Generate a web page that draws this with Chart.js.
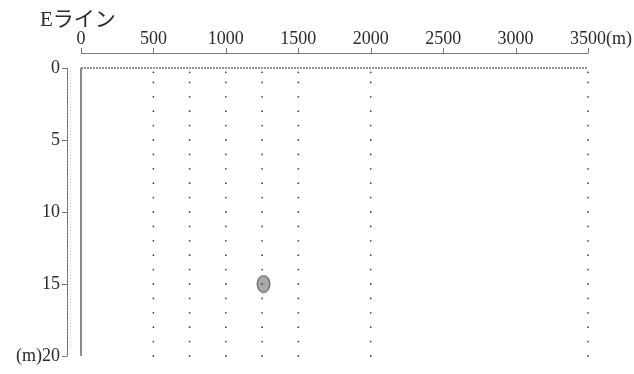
<!DOCTYPE html>
<html>
<head>
<meta charset="utf-8">
<script src="https://cdn.jsdelivr.net/npm/chart.js@4/dist/chart.umd.min.js"></script>
<style>
  html, body { margin: 0; padding: 0; background: #ffffff; }
  #wrap { width: 634px; height: 374px; }
</style>
</head>
<body>
<div id="wrap"><canvas id="c" width="634" height="374"></canvas></div>
<script>
// ---- data ----
const chartTitle = 'Eライン';
const distanceTicks = [0, 500, 1000, 1500, 2000, 2500, 3000, 3500];   // m
const depthTicks = [0, 5, 10, 15, 20];                                 // m
const measureLines = [500, 750, 1000, 1250, 1500, 2000, 3500];         // distance of each measuring column (m)
const measureDepths = [0.3, 1, 2, 3, 4, 5, 6, 7, 8, 9, 10, 11, 12, 13, 14, 15, 16, 17, 18, 19, 20];
const anomalyX = [1260];
const anomalyY = [15];
const surfaceX = [0, 3500];
const surfaceY = [0, 0];
const wallX = [0, 0];
const wallY = [0, 20];

// ---- build datasets ----
const gridPoints = [];
for (const x of measureLines) for (const y of measureDepths) gridPoints.push({ x, y });
const anomalyPoints = anomalyX.map((x, i) => ({ x, y: anomalyY[i] }));
const surfacePoints = surfaceX.map((x, i) => ({ x, y: surfaceY[i] }));
const wallPoints = wallX.map((x, i) => ({ x, y: wallY[i] }));

// ellipse marker
const ell = document.createElement('canvas');
ell.width = 15; ell.height = 19;
(function () {
  const g = ell.getContext('2d');
  g.beginPath();
  g.ellipse(7.5, 9.5, 6.3, 8.3, 0, 0, Math.PI * 2);
  g.fillStyle = '#a9a9a9';
  g.fill();
  g.lineWidth = 1.3;
  g.strokeStyle = '#6a6a6a';
  g.stroke();
})();

const serif = '"Liberation Serif", "DejaVu Serif", "Noto Sans CJK JP", serif';
const textColor = '#2a2a2a';

const decor = {
  id: 'decor',
  afterDraw(chart) {
    const ctx = chart.ctx;
    const xs = chart.scales.x, ys = chart.scales.y;
    const ca = chart.chartArea;
    ctx.save();
    // top distance axis line with ticks
    const axY = ca.top - 15;
    ctx.strokeStyle = '#777';
    ctx.lineWidth = 1;
    ctx.beginPath();
    ctx.moveTo(xs.getPixelForValue(distanceTicks[0]), axY + 0.5);
    ctx.lineTo(xs.getPixelForValue(distanceTicks[distanceTicks.length - 1]), axY + 0.5);
    for (const t of distanceTicks) {
      const px = Math.round(xs.getPixelForValue(t)) + 0.5;
      ctx.moveTo(px, axY + 0.5);
      ctx.lineTo(px, axY - 5);
    }
    ctx.stroke();
    // left depth axis line with ticks
    const axX = ca.left - 14;
    ctx.beginPath();
    ctx.moveTo(axX + 0.5, ys.getPixelForValue(depthTicks[0]));
    ctx.lineTo(axX + 0.5, ys.getPixelForValue(depthTicks[depthTicks.length - 1]));
    for (const t of depthTicks) {
      const py = Math.round(ys.getPixelForValue(t)) + 0.5;
      ctx.moveTo(axX + 0.5, py);
      ctx.lineTo(axX - 5, py);
    }
    ctx.stroke();
    // faint dotted guide beside the depth axis
    ctx.strokeStyle = '#c8c8c8';
    ctx.setLineDash([1, 2]);
    ctx.beginPath();
    ctx.moveTo(axX + 3.5, ys.getPixelForValue(0.2));
    ctx.lineTo(axX + 3.5, ys.getPixelForValue(19.5));
    ctx.stroke();
    ctx.setLineDash([]);
    // unit "(m)" after the last distance label
    ctx.fillStyle = textColor;
    ctx.font = '18px ' + serif;
    ctx.textBaseline = 'middle';
    ctx.textAlign = 'left';
    const lastPx = xs.getPixelForValue(distanceTicks[distanceTicks.length - 1]);
    ctx.fillText('(m)', lastPx + 18, 39);
    // title
    ctx.font = '21px ' + serif;
    ctx.textBaseline = 'middle';
    ctx.fillText(chartTitle, 40, 20);
    ctx.restore();
  }
};

new Chart(document.getElementById('c'), {
  type: 'scatter',
  data: {
    datasets: [
      {
        label: 'surface',
        type: 'line',
        data: surfacePoints,
        borderColor: '#6e6e6e',
        borderWidth: 1.5,
        borderDash: [2, 1],
        pointRadius: 0,
        clip: false
      },
      {
        label: 'wall',
        type: 'line',
        data: wallPoints,
        borderColor: '#666',
        borderWidth: 1.5,
        pointRadius: 0,
        clip: false
      },
      {
        label: 'grid',
        data: gridPoints,
        pointRadius: 0.9,
        pointBackgroundColor: '#444',
        pointBorderWidth: 0,
        clip: false
      },
      {
        label: 'anomaly',
        data: anomalyPoints,
        pointStyle: ell,
        clip: false
      }
    ]
  },
  options: {
    responsive: false,
    devicePixelRatio: 1,
    animation: false,
    events: [],
    layout: { padding: { left: 0, right: 46, top: 0, bottom: 18 } },
    plugins: { legend: { display: false }, tooltip: { enabled: false }, title: { display: false } },
    scales: {
      x: {
        type: 'linear',
        position: 'top',
        min: 0,
        max: 3500,
        afterBuildTicks(scale) { scale.ticks = distanceTicks.map(v => ({ value: v })); },
        afterFit(scale) {
          scale.height = 68;
          scale.paddingLeft = 0; scale.paddingRight = 0; scale.paddingTop = 0; scale.paddingBottom = 0;
        },
        grid: { display: false, drawTicks: false },
        border: { display: false },
        ticks: {
          padding: 18,
          color: textColor,
          font: { family: serif, size: 18 },
          maxRotation: 0,
          autoSkip: false,
          callback: v => String(v)
        }
      },
      y: {
        type: 'linear',
        position: 'left',
        reverse: true,
        min: 0,
        max: 20,
        afterBuildTicks(scale) { scale.ticks = depthTicks.map(v => ({ value: v })); },
        afterFit(scale) {
          scale.width = 81;
          scale.paddingLeft = 0; scale.paddingRight = 0; scale.paddingTop = 0; scale.paddingBottom = 0;
        },
        grid: { display: false, drawTicks: false },
        border: { display: false },
        ticks: {
          padding: 21,
          color: textColor,
          font: { family: serif, size: 18 },
          callback: v => (v === 20 ? '(m)20' : String(v))
        }
      }
    }
  },
  plugins: [decor]
});
</script>
</body>
</html>
